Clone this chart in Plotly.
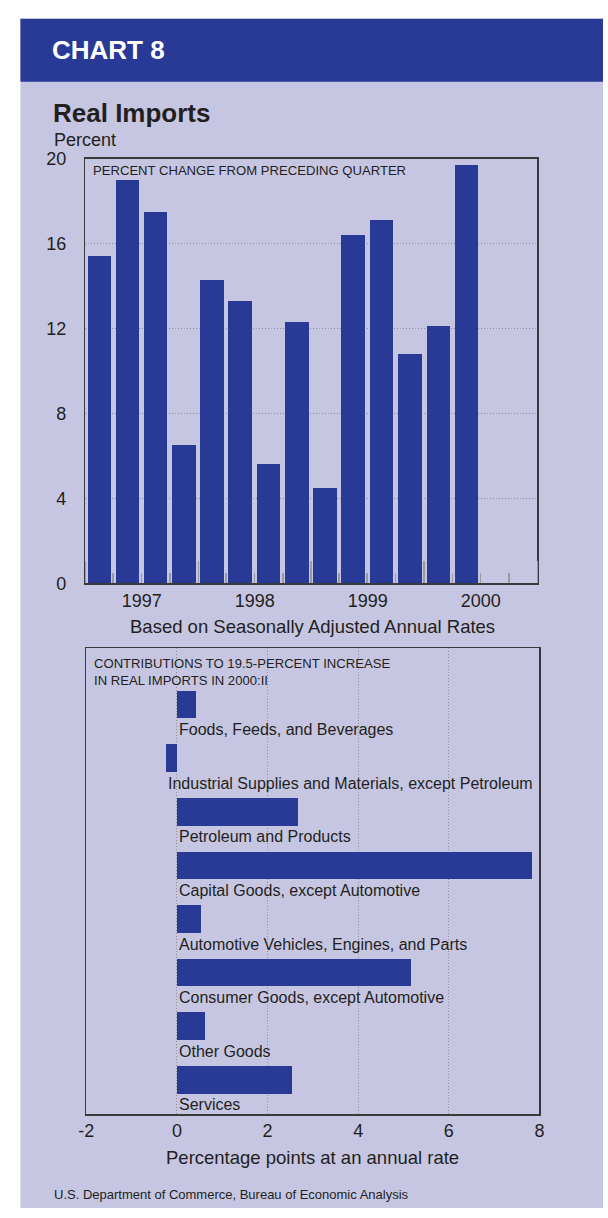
import plotly.graph_objects as go
import pandas as pd

W, H = 608, 1218

# ---------------- data ----------------
quarters = ["1997:I", "1997:II", "1997:III", "1997:IV",
            "1998:I", "1998:II", "1998:III", "1998:IV",
            "1999:I", "1999:II", "1999:III", "1999:IV",
            "2000:I", "2000:II"]
pct_change = [15.4, 19.0, 17.5, 6.5,
              14.3, 13.3, 5.6, 12.3,
              4.5, 16.4, 17.1, 10.8,
              12.1, 19.7]
top_y_ticks = [0, 4, 8, 12, 16, 20]
top_x_range = ["1997-01-01", "2001-01-01"]

components = ["Foods, Feeds, and Beverages",
              "Industrial Supplies and Materials, except Petroleum",
              "Petroleum and Products",
              "Capital Goods, except Automotive",
              "Automotive Vehicles, Engines, and Parts",
              "Consumer Goods, except Automotive",
              "Other Goods",
              "Services"]
contributions = [0.42, -0.23, 2.67, 7.83, 0.53, 5.17, 0.63, 2.54]
bottom_x_ticks = [-2, 0, 2, 4, 6, 8]

# ---------------- style ----------------
BLUE = "#283996"
LAV = "#C6C6E2"
TXT = "#231F20"
GRID = "#8f8f8f"
TICK = "#9a9a9a"
BORDER = "#3a3a3a"
FONT = "Liberation Sans, Arial, Helvetica, sans-serif"
DOTS = "1px,2px"


def px_x(p):
    return p / W


def px_y(p):
    return 1 - p / H


# quarter -> mid-quarter date
roman = {"I": 1, "II": 2, "III": 3, "IV": 4}
mids = []
for q in quarters:
    yr, rq = q.split(":")
    start = pd.Timestamp(int(yr), 3 * (roman[rq] - 1) + 1, 1)
    end = start + pd.DateOffset(months=3)
    mids.append(start + (end - start) / 2)
bar_w_ms = 0.83 * 91.3 * 86400000

fig = go.Figure()

fig.add_trace(go.Bar(
    x=mids, y=pct_change, width=[bar_w_ms] * len(mids),
    marker=dict(color=BLUE, line=dict(width=0)),
    xaxis="x", yaxis="y", hoverinfo="skip", showlegend=False))

fig.add_trace(go.Bar(
    x=contributions, y=list(range(len(components))), orientation="h",
    width=0.515, marker=dict(color=BLUE, line=dict(width=0)),
    xaxis="x2", yaxis="y2", hoverinfo="skip", showlegend=False))

axis_common = dict(showline=True, mirror=True, linecolor=BORDER, linewidth=1.5,
                   zeroline=False, tickfont=dict(family=FONT, size=18, color=TXT))

fig.update_layout(
    width=W, height=H,
    margin=dict(l=0, r=0, t=0, b=0),
    paper_bgcolor="white", plot_bgcolor="white",
    bargap=0,
    xaxis=dict(
        domain=[px_x(79), px_x(541)], anchor="y", type="date",
        range=top_x_range, tick0="1997-01-01", dtick="M12",
        tickformat="%Y", ticklabelmode="period",
        ticks="inside", ticklen=22, tickwidth=1.5, tickcolor=TICK,
        minor=dict(dtick="M3", tick0="1997-01-01", ticks="inside",
                   ticklen=10, tickwidth=1.5, tickcolor=TICK, showgrid=False),
        showgrid=False, **axis_common),
    yaxis=dict(
        domain=[px_y(583), px_y(151)], anchor="x",
        range=[top_y_ticks[0], top_y_ticks[-1]], tickvals=top_y_ticks,
        ticks="", ticklabelstandoff=14,
        showgrid=True, gridcolor=GRID, griddash=DOTS, gridwidth=1,
        **axis_common),
    xaxis2=dict(
        domain=[px_x(80), px_x(543)], anchor="y2",
        range=[bottom_x_ticks[0], bottom_x_ticks[-1]], tickvals=bottom_x_ticks,
        ticktext=[str(v) for v in bottom_x_ticks],
        ticks="", showgrid=True, gridcolor=GRID, griddash=DOTS, gridwidth=1,
        **axis_common),
    yaxis2=dict(
        domain=[px_y(1122.7), px_y(649)], anchor="x2",
        range=[7.643, -1.047], showticklabels=False, ticks="",
        showgrid=False, **axis_common),
)

# background panel and header band
fig.add_shape(type="rect", xref="paper", yref="paper",
              x0=px_x(12.7), x1=1, y0=0, y1=px_y(9),
              fillcolor=LAV, line=dict(width=0), layer="below")
fig.add_shape(type="rect", xref="paper", yref="paper",
              x0=px_x(12.7), x1=1, y0=px_y(73), y1=px_y(9),
              fillcolor=BLUE, line=dict(width=0), layer="below")

ann = []


def note(text, x, y, size, color=TXT, xanchor="left", bold=False):
    if bold:
        text = "<b>" + text + "</b>"
    ann.append(dict(text=text, x=x, y=y, xref="paper", yref="paper",
                    xanchor=xanchor, yanchor="middle", showarrow=False,
                    align="left" if xanchor == "left" else "center",
                    font=dict(family=FONT, size=size, color=color)))


note("CHART 8", px_x(43), px_y(40.5), 26, color="white", bold=True)
note("Real Imports", px_x(44), px_y(104.5), 26, bold=True)
note("Percent", px_x(45), px_y(132.5), 18)
note("PERCENT CHANGE FROM PRECEDING QUARTER", px_x(85), px_y(163.5), 13.1)
note("Based on Seasonally Adjusted Annual Rates", px_x(311), px_y(626.7), 18.5, xanchor="center")
note("CONTRIBUTIONS TO 19.5-PERCENT INCREASE<br>IN REAL IMPORTS IN 2000:II",
     px_x(86), px_y(673), 13.1)
note("Percentage points at an annual rate", px_x(311.5), px_y(1166.7), 18.5, xanchor="center")
note("U.S. Department of Commerce, Bureau of Economic Analysis", px_x(45), px_y(1204), 13)

for i, (name, v) in enumerate(zip(components, contributions)):
    ann.append(dict(text=name, x=min(0, v), y=i + 0.47, xref="x2", yref="y2",
                    xanchor="left", yanchor="middle", showarrow=False,
                    font=dict(family=FONT, size=16, color=TXT)))

fig.update_layout(annotations=ann)

fig.write_html("out.html",
               config={"displayModeBar": False, "staticPlot": True},
               post_script="document.body.style.margin='0px';"
                           "document.body.style.overflow='hidden';")
